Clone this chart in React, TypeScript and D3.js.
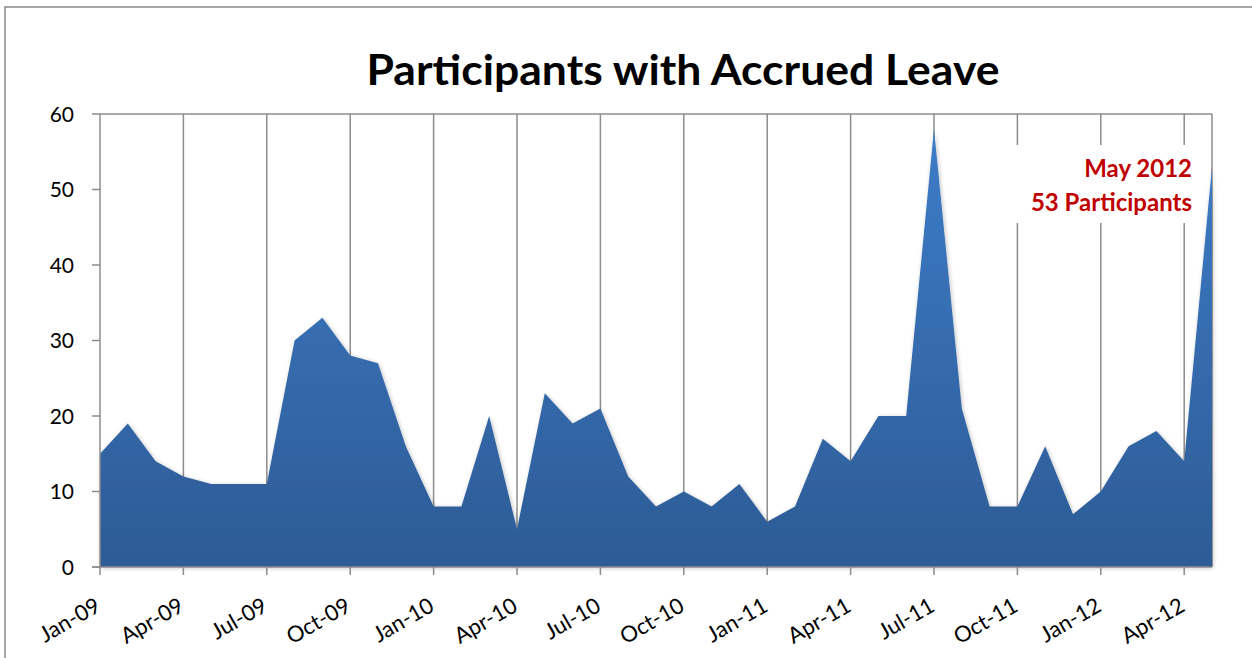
import React from "react";
import * as d3 from "d3";

const months: string[] = [
  "Jan-09","Feb-09","Mar-09","Apr-09","May-09","Jun-09","Jul-09","Aug-09","Sep-09","Oct-09","Nov-09","Dec-09",
  "Jan-10","Feb-10","Mar-10","Apr-10","May-10","Jun-10","Jul-10","Aug-10","Sep-10","Oct-10","Nov-10","Dec-10",
  "Jan-11","Feb-11","Mar-11","Apr-11","May-11","Jun-11","Jul-11","Aug-11","Sep-11","Oct-11","Nov-11","Dec-11",
  "Jan-12","Feb-12","Mar-12","Apr-12","May-12",
];
const participants: number[] = [
  15, 19, 14, 12, 11, 11, 11, 30, 33, 28, 27, 16,
  8, 8, 20, 5, 23, 19, 21, 12, 8, 10, 8, 11,
  6, 8, 17, 14, 20, 20, 58, 21, 8, 8, 16, 7,
  10, 16, 18, 14, 53,
];
const tickMonths: string[] = [
  "Jan-09","Apr-09","Jul-09","Oct-09","Jan-10","Apr-10","Jul-10","Oct-10",
  "Jan-11","Apr-11","Jul-11","Oct-11","Jan-12","Apr-12",
];
const yTicks: number[] = [0, 10, 20, 30, 40, 50, 60];
const title = "Participants with Accrued Leave";
const noteLines: string[] = ["May 2012", "53 Participants"];

const W = 1252;
const H = 658;
const L = 100, R = 1212, T = 114, B = 567;
const FONT = "Lato, 'Open Sans', sans-serif";

export default function App() {
  const x = d3.scalePoint<string>().domain(months).range([L, R]);
  const y = d3.scaleLinear().domain([0, 60]).range([B, T]);
  const data = months.map((m, i) => ({ m, v: participants[i] }));
  const area = d3
    .area<{ m: string; v: number }>()
    .x((d) => x(d.m) as number)
    .y0(y(0))
    .y1((d) => y(d.v));
  const grid = "#8c8c8c";

  return (
    <svg width={W} height={H} style={{ position: "absolute", left: 0, top: 0 }}>
      <defs>
        <linearGradient id="fillg" x1="0" y1={T} x2="0" y2={B} gradientUnits="userSpaceOnUse">
          <stop offset="0" stopColor="#3d7dc9" />
          <stop offset="1" stopColor="#2d5b95" />
        </linearGradient>
        <filter id="shadow" x="-5%" y="-5%" width="110%" height="110%">
          <feGaussianBlur in="SourceAlpha" stdDeviation="2" />
          <feOffset dx="1" dy="1" result="b" />
          <feComponentTransfer><feFuncA type="linear" slope="0.25" /></feComponentTransfer>
          <feMerge>
            <feMergeNode />
            <feMergeNode in="SourceGraphic" />
          </feMerge>
        </filter>
      </defs>
      <rect x={0} y={0} width={W} height={H} fill="#fff" />
      <rect x={5} y={7} width={W + 20} height={H + 20} fill="none" stroke="#8a8a8a" strokeWidth={1.5} />

      <text x={683} y={85} textAnchor="middle" fontFamily={FONT} fontWeight={700} fontSize={42}
        textLength={633} lengthAdjust="spacingAndGlyphs" fill="#000">{title}</text>

      {/* vertical gridlines */}
      {tickMonths.slice(1).map((m) => (
        <line key={m} x1={x(m)} x2={x(m)} y1={T} y2={B} stroke={grid} strokeWidth={1.5} />
      ))}
      <line x1={R} x2={R} y1={T} y2={B} stroke={grid} strokeWidth={1.5} />
      <line x1={L} x2={R} y1={T} y2={T} stroke={grid} strokeWidth={1.5} />

      <path d={area(data) as string} fill="url(#fillg)" filter="url(#shadow)" />

      {/* annotation */}
      <rect x={1008} y={145} width={190} height={78} fill="#fff" />
      {noteLines.map((t, i) => (
        <text key={t} x={1192} y={177 + i * 33.5} textAnchor="end" fontFamily={FONT} fontWeight={700}
          fontSize={24} fill="#c00000">{t}</text>
      ))}

      {/* axes */}
      <line x1={L} x2={L} y1={T} y2={B} stroke={grid} strokeWidth={1.5} />
      <line x1={L - 8} x2={R} y1={B} y2={B} stroke={grid} strokeWidth={1.5} />
      {yTicks.map((t) => (
        <g key={t}>
          <line x1={L - 8} x2={L} y1={y(t)} y2={y(t)} stroke={grid} strokeWidth={1.5} />
          <text x={L - 26} y={y(t)} dy="0.36em" textAnchor="end" fontFamily={FONT} fontSize={21} fill="#000">{t}</text>
        </g>
      ))}
      {tickMonths.map((m) => (
        <g key={m}>
          <line x1={x(m)} x2={x(m)} y1={B} y2={B + 8} stroke={grid} strokeWidth={1.5} />
          <text transform={`translate(${(x(m) as number) + 2},${B + 43}) rotate(-30)`} textAnchor="end"
            fontFamily={FONT} fontSize={22} fill="#000">{m}</text>
        </g>
      ))}
    </svg>
  );
}
